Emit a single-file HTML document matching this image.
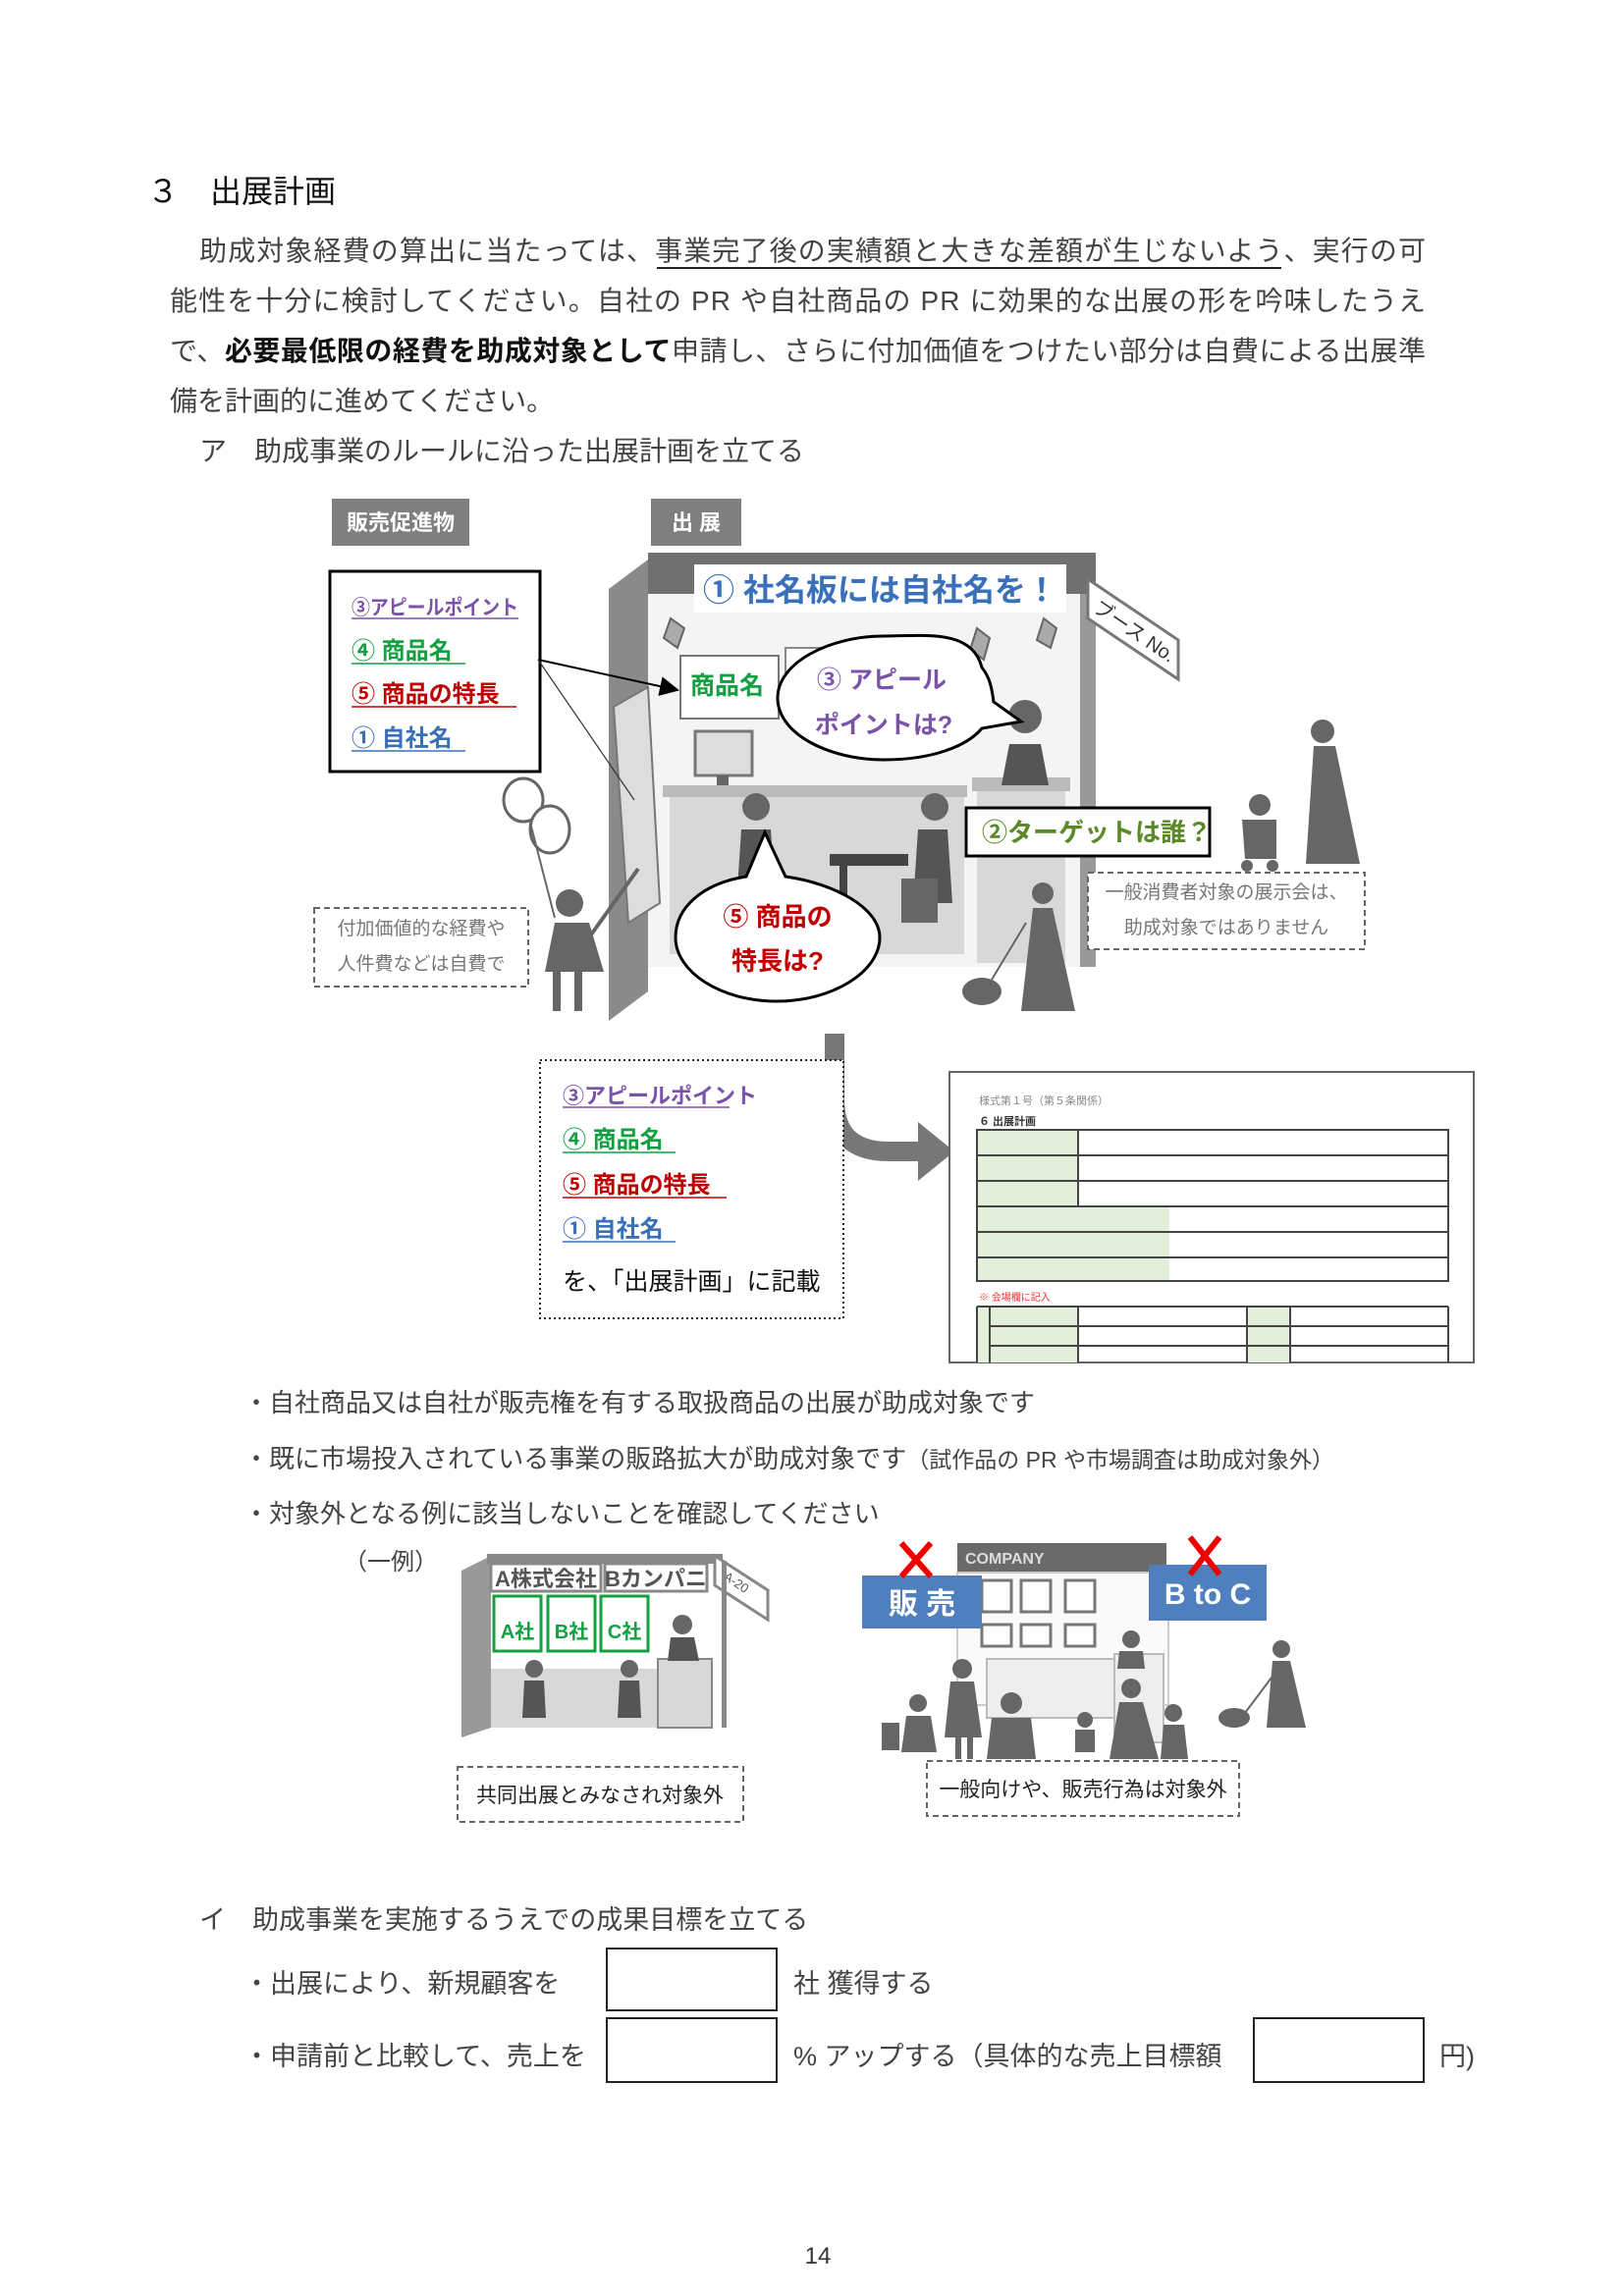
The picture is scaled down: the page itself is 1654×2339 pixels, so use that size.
<!DOCTYPE html>
<html><head><meta charset="utf-8"><style>
html,body{margin:0;padding:0;background:#fff}
svg{display:block}
text{font-family:"Liberation Sans","Noto Sans CJK JP",sans-serif}
</style></head><body>
<svg width="1654" height="2339" viewBox="0 0 1654 2339" xmlns="http://www.w3.org/2000/svg">
<defs>
<marker id="ah" markerWidth="10" markerHeight="10" refX="9" refY="5" orient="auto"><path d="M0,0 L10,5 L0,10 z" fill="#000"/></marker>
</defs>
<text x="150" y="206" font-size="32" fill="#111">３　出展計画</text>
<g font-size="28" fill="#444">
<text x="203" y="265" textLength="1249" lengthAdjust="spacing">助成対象経費の算出に当たっては、事業完了後の実績額と大きな差額が生じないよう、実行の可</text>
<line x1="669" y1="273" x2="1305" y2="273" stroke="#222" stroke-width="2"/>
<text x="173" y="316" textLength="1279" lengthAdjust="spacing">能性を十分に検討してください。自社の PR や自社商品の PR に効果的な出展の形を吟味したうえ</text>
<text x="173" y="367" textLength="1279" lengthAdjust="spacing">で、<tspan fill="#111" font-weight="bold">必要最低限の経費を助成対象として</tspan>申請し、さらに付加価値をつけたい部分は自費による出展準</text>
<text x="173" y="418">備を計画的に進めてください。</text>
<text x="203" y="469">ア　助成事業のルールに沿った出展計画を立てる</text>
</g>

<rect x="338" y="508" width="140" height="48" fill="#7f7f7f"/>
<text x="408" y="540" font-size="22" font-weight="bold" fill="#fff" text-anchor="middle">販売促進物</text>
<rect x="663" y="508" width="92" height="48" fill="#7f7f7f"/>
<text x="709" y="540" font-size="22" font-weight="bold" fill="#fff" text-anchor="middle">出 展</text>

<rect x="336" y="582" width="214" height="204" fill="#fff" stroke="#000" stroke-width="3"/>
<g font-size="24" font-weight="bold">
<text x="358" y="626" fill="#7a52a8" font-size="21" textLength="170" lengthAdjust="spacingAndGlyphs">③アピールポイント</text>
<line x1="358" y1="630" x2="528" y2="630" stroke="#7a52a8" stroke-width="1.5"/>
<text x="358" y="671" fill="#12a040">④ 商品名</text>
<line x1="358" y1="676" x2="474" y2="676" stroke="#12a040" stroke-width="1.5"/>
<text x="358" y="715" fill="#c00000">⑤ 商品の特長</text>
<line x1="358" y1="720" x2="526" y2="720" stroke="#c00000" stroke-width="1.5"/>
<text x="358" y="760" fill="#3a70b8">① 自社名</text>
<line x1="358" y1="765" x2="474" y2="765" stroke="#3a70b8" stroke-width="1.5"/>
</g>

<g>
<polygon points="620,600 660,570 660,1010 620,1040" fill="#8a8a8a"/>
<rect x="660" y="563" width="456" height="42" fill="#707070"/>
<rect x="660" y="605" width="456" height="380" fill="#f4f4f4"/>
<rect x="1100" y="605" width="16" height="380" fill="#999"/>
<rect x="707" y="575" width="379" height="49" fill="#fff"/>
<text x="716" y="612" font-size="32" font-weight="bold" fill="#3a70b8">① 社名板には自社名を！</text>
<polygon points="1108,590 1200,652 1200,692 1108,630" fill="#fff" stroke="#777" stroke-width="3"/>
<text x="1112" y="622" font-size="20" fill="#333" transform="rotate(34 1112 622)">ブース No.</text>
<polygon points="683,630 697,640 690,660 676,650" fill="#aaa" stroke="#666" stroke-width="2"/>
<polygon points="995,640 1008,650 1002,672 988,662" fill="#aaa" stroke="#666" stroke-width="2"/>
<polygon points="1063,630 1076,640 1070,660 1056,652" fill="#aaa" stroke="#666" stroke-width="2"/>
<rect x="693" y="668" width="100" height="64" fill="#fff" stroke="#777" stroke-width="2"/>
<text x="703" y="707" font-size="25" font-weight="bold" fill="#12a040">商品名</text>
<rect x="800" y="660" width="170" height="50" fill="#fff" stroke="#888" stroke-width="2"/>
<polygon points="625,720 660,700 672,920 640,940" fill="#ddd" stroke="#777" stroke-width="2"/>
<rect x="708" y="745" width="58" height="45" fill="#ddd" stroke="#777" stroke-width="3"/>
<rect x="730" y="790" width="12" height="12" fill="#666"/>
<rect x="675" y="800" width="310" height="12" fill="#bbb"/>
<rect x="682" y="812" width="300" height="160" fill="#d8d8d8"/>
<rect x="990" y="792" width="100" height="14" fill="#bbb"/>
<rect x="995" y="806" width="90" height="175" fill="#d8d8d8"/>
<circle cx="1044" cy="730" r="17" fill="#666"/>
<path d="M1020,800 L1028,758 L1060,758 L1068,800 z" fill="#555"/>
<circle cx="770" cy="822" r="14" fill="#666"/>
<path d="M755,845 L785,845 L790,920 L750,920 z" fill="#555"/>
<circle cx="952" cy="822" r="14" fill="#666"/>
<path d="M935,845 L965,845 L970,920 L930,920 z" fill="#555"/>
<rect x="845" y="870" width="80" height="12" fill="#444"/>
<rect x="855" y="882" width="8" height="50" fill="#444"/>
<path d="M918,895 L955,895 L955,940 L918,940 z" fill="#666"/>
</g>
<line x1="548" y1="672" x2="690" y2="703" stroke="#000" stroke-width="2" marker-end="url(#ah)"/>
<line x1="548" y1="672" x2="646" y2="815" stroke="#333" stroke-width="1.2"/>

<path d="M1000,680 C990,640 940,648 900,648 C845,648 792,675 792,711 C792,748 845,774 900,774 C950,774 985,760 1000,742 L1040,735 L1012,715 C1010,700 1008,690 1000,680 z" fill="#fff" stroke="#000" stroke-width="3"/>
<text x="898" y="701" font-size="25" font-weight="bold" fill="#7a52a8" text-anchor="middle">③ アピール</text>
<text x="900" y="747" font-size="25" font-weight="bold" fill="#7a52a8" text-anchor="middle">ポイントは?</text>

<rect x="984" y="823" width="248" height="49" fill="#fff" stroke="#000" stroke-width="3"/>
<text x="1000" y="857" font-size="26" font-weight="bold" fill="#5a8a28">②ターゲットは誰？</text>

<path d="M760,893 L779,848 L800,893 C850,900 896,925 896,955 C896,990 848,1020 791,1020 C734,1020 688,990 688,955 C688,925 715,900 760,893 z" fill="#fff" stroke="#000" stroke-width="3"/>
<text x="792" y="943" font-size="26" font-weight="bold" fill="#c00000" text-anchor="middle">⑤ 商品の</text>
<text x="792" y="988" font-size="26" font-weight="bold" fill="#c00000" text-anchor="middle">特長は?</text>

<ellipse cx="533" cy="815" rx="20" ry="22" fill="#fff" stroke="#666" stroke-width="3"/>
<ellipse cx="560" cy="845" rx="20" ry="24" fill="#fff" stroke="#666" stroke-width="3"/>
<line x1="540" y1="838" x2="565" y2="935" stroke="#666" stroke-width="2"/>
<circle cx="580" cy="920" r="14" fill="#666"/>
<path d="M565,940 L600,940 L615,990 L555,990 z" fill="#666"/>
<rect x="563" y="990" width="8" height="40" fill="#666"/>
<rect x="585" y="990" width="8" height="40" fill="#666"/>
<line x1="600" y1="955" x2="650" y2="885" stroke="#666" stroke-width="4"/>

<circle cx="1347" cy="745" r="12" fill="#666"/>
<path d="M1338,760 L1360,760 L1385,880 L1330,880 z" fill="#666"/>
<circle cx="1283" cy="820" r="11" fill="#666"/>
<path d="M1265,835 L1300,835 L1300,875 L1268,875 z" fill="#666"/>
<circle cx="1270" cy="882" r="6" fill="#666"/><circle cx="1296" cy="882" r="6" fill="#666"/>
<circle cx="1062" cy="910" r="11" fill="#666"/>
<path d="M1052,925 L1072,925 L1095,1030 L1040,1030 z" fill="#666"/>
<ellipse cx="1000" cy="1010" rx="20" ry="14" fill="#666"/>
<line x1="1045" y1="940" x2="1010" y2="998" stroke="#666" stroke-width="2"/>

<rect x="320" y="925" width="218" height="80" fill="#fff" stroke="#666" stroke-width="2" stroke-dasharray="6,4"/>
<text x="429" y="952" font-size="19" fill="#777" text-anchor="middle">付加価値的な経費や</text>
<text x="429" y="988" font-size="19" fill="#777" text-anchor="middle">人件費などは自費で</text>
<rect x="1108" y="889" width="282" height="78" fill="#fff" stroke="#666" stroke-width="2" stroke-dasharray="6,4"/>
<text x="1249" y="915" font-size="19" fill="#777" text-anchor="middle">一般消費者対象の展示会は、</text>
<text x="1249" y="951" font-size="19" fill="#777" text-anchor="middle">助成対象ではありません</text>

<path d="M850,1053 L850,1120 Q850,1173 905,1173 L935,1173" fill="none" stroke="#777" stroke-width="20"/>
<polygon points="935,1143 972,1173 935,1203" fill="#777"/>

<rect x="550" y="1080" width="309" height="263" fill="#fff" stroke="#222" stroke-width="2" stroke-dasharray="2,3"/>
<g font-size="24" font-weight="bold">
<text x="573" y="1124" fill="#7a52a8" font-size="22">③アピールポイント</text>
<line x1="573" y1="1128" x2="743" y2="1128" stroke="#7a52a8" stroke-width="1.5"/>
<text x="573" y="1169" fill="#12a040">④ 商品名</text>
<line x1="573" y1="1174" x2="688" y2="1174" stroke="#12a040" stroke-width="1.5"/>
<text x="573" y="1215" fill="#c00000">⑤ 商品の特長</text>
<line x1="573" y1="1220" x2="740" y2="1220" stroke="#c00000" stroke-width="1.5"/>
<text x="573" y="1260" fill="#3a70b8">① 自社名</text>
<line x1="573" y1="1265" x2="688" y2="1265" stroke="#3a70b8" stroke-width="1.5"/>
</g>
<text x="573" y="1314" font-size="25" fill="#111">を、「出展計画」に記載</text>

<rect x="967" y="1092" width="534" height="296" fill="#fff" stroke="#666" stroke-width="2"/>
<text x="997" y="1125" font-size="11" fill="#888">様式第１号（第５条関係）</text>
<text x="997" y="1146" font-size="11" font-weight="bold" fill="#333">６ 出展計画</text>
<rect x="995" y="1151" width="480" height="154" fill="#fff"/>
<rect x="996" y="1152" width="102" height="76" fill="#e3eedb"/>
<rect x="996" y="1228" width="195" height="76" fill="#e3eedb"/>
<g stroke="#444" stroke-width="2">
<line x1="995" y1="1177" x2="1475" y2="1177"/><line x1="995" y1="1203" x2="1475" y2="1203"/>
<line x1="995" y1="1229" x2="1475" y2="1229"/><line x1="995" y1="1255" x2="1475" y2="1255"/>
<line x1="995" y1="1281" x2="1475" y2="1281"/><line x1="1098" y1="1151" x2="1098" y2="1229"/>
<rect x="995" y="1151" width="480" height="154" fill="none"/>
</g>
<text x="997" y="1325" font-size="10" fill="#e33">※ 会場欄に記入</text>
<rect x="996" y="1332" width="12" height="56" fill="#e3eedb"/>
<rect x="1008" y="1332" width="90" height="56" fill="#e3eedb"/>
<rect x="1270" y="1332" width="44" height="56" fill="#e3eedb"/>
<g stroke="#444" stroke-width="2" fill="none">
<line x1="995" y1="1331" x2="1475" y2="1331"/><line x1="1008" y1="1351" x2="1475" y2="1351"/>
<line x1="1008" y1="1371" x2="1475" y2="1371"/><line x1="995" y1="1331" x2="995" y2="1388"/>
<line x1="1008" y1="1331" x2="1008" y2="1388"/><line x1="1098" y1="1331" x2="1098" y2="1388"/>
<line x1="1270" y1="1331" x2="1270" y2="1388"/><line x1="1314" y1="1331" x2="1314" y2="1388"/>
<line x1="1475" y1="1331" x2="1475" y2="1388"/>
</g>

<g font-size="26" fill="#444">
<text x="248" y="1438">・自社商品又は自社が販売権を有する取扱商品の出展が助成対象です</text>
<text x="248" y="1495">・既に市場投入されている事業の販路拡大が助成対象です<tspan font-size="23">（試作品の PR や市場調査は助成対象外）</tspan></text>
<text x="248" y="1551">・対象外となる例に該当しないことを確認してください</text>
<text x="350" y="1599" font-size="24">（一例）</text>
</g>

<polygon points="470,1600 500,1585 500,1760 470,1770" fill="#999"/>
<rect x="496" y="1583" width="240" height="10" fill="#888"/>
<rect x="500" y="1593" width="112" height="28" fill="#fff" stroke="#888" stroke-width="3"/>
<text x="556" y="1616" font-size="22" font-weight="bold" fill="#555" text-anchor="middle">A株式会社</text>
<rect x="616" y="1593" width="104" height="28" fill="#fff" stroke="#888" stroke-width="3"/>
<text x="668" y="1616" font-size="22" font-weight="bold" fill="#555" text-anchor="middle">Bカンパニ</text>
<polygon points="728,1585 782,1620 782,1650 728,1615" fill="#fff" stroke="#888" stroke-width="3"/>
<text x="736" y="1608" font-size="13" fill="#555" transform="rotate(34 736 1608)">A-20</text>
<g fill="#fff" stroke="#12a040" stroke-width="3">
<rect x="503" y="1626" width="48" height="56"/><rect x="558" y="1626" width="48" height="56"/><rect x="612" y="1626" width="48" height="56"/>
</g>
<g font-size="20" font-weight="bold" fill="#12a040" text-anchor="middle">
<text x="527" y="1669">A社</text><text x="582" y="1669">B社</text><text x="636" y="1669">C社</text>
</g>
<rect x="500" y="1700" width="180" height="60" fill="#d8d8d8"/>
<rect x="670" y="1690" width="55" height="70" fill="#d8d8d8" stroke="#888" stroke-width="2"/>
<rect x="735" y="1590" width="5" height="170" fill="#888"/>
<circle cx="695" cy="1655" r="10" fill="#666"/><path d="M683,1668 L707,1668 L712,1692 L680,1692z" fill="#555"/>
<circle cx="544" cy="1700" r="9" fill="#666"/><path d="M534,1712 L554,1712 L556,1750 L532,1750z" fill="#555"/>
<circle cx="641" cy="1700" r="9" fill="#666"/><path d="M631,1712 L651,1712 L653,1750 L629,1750z" fill="#555"/>
<rect x="466" y="1800" width="291" height="56" fill="#fff" stroke="#666" stroke-width="2" stroke-dasharray="6,4"/>
<text x="611" y="1836" font-size="21" fill="#222" text-anchor="middle">共同出展とみなされ対象外</text>

<rect x="975" y="1572" width="213" height="30" fill="#6a6a6a"/>
<text x="983" y="1593" font-size="16" font-weight="bold" fill="#ddd">COMPANY</text>
<rect x="975" y="1602" width="215" height="135" fill="#fafafa" stroke="#ccc" stroke-width="2"/>
<g fill="#fff" stroke="#777" stroke-width="3">
<rect x="1000" y="1610" width="30" height="32"/><rect x="1040" y="1610" width="30" height="32"/><rect x="1085" y="1610" width="30" height="32"/>
<rect x="1000" y="1655" width="30" height="22"/><rect x="1040" y="1655" width="30" height="22"/><rect x="1085" y="1655" width="30" height="22"/>
</g>
<rect x="1005" y="1690" width="130" height="60" fill="#eee" stroke="#bbb" stroke-width="2"/>
<rect x="1135" y="1685" width="50" height="90" fill="#eee" stroke="#bbb" stroke-width="2"/>
<g fill="#666">
<circle cx="980" cy="1700" r="10"/><path d="M968,1713 L992,1713 L1000,1770 L962,1770z"/>
<rect x="973" y="1770" width="6" height="22"/><rect x="985" y="1770" width="6" height="22"/>
<circle cx="935" cy="1735" r="9"/><path d="M923,1748 L948,1748 L954,1785 L918,1785z"/>
<rect x="898" y="1755" width="18" height="28"/>
<circle cx="1030" cy="1735" r="11"/><path d="M1010,1750 L1050,1750 L1055,1792 L1005,1792z"/>
<circle cx="1152" cy="1720" r="10"/><path d="M1140,1734 L1164,1734 L1180,1792 L1130,1792z"/>
<circle cx="1195" cy="1745" r="9"/><path d="M1185,1757 L1206,1757 L1210,1792 L1182,1792z"/>
<circle cx="1105" cy="1752" r="8"/><path d="M1095,1762 L1115,1762 L1115,1785 L1095,1785z"/>
<circle cx="1305" cy="1680" r="9"/><path d="M1296,1692 L1314,1692 L1330,1760 L1290,1760z"/>
<ellipse cx="1257" cy="1750" rx="16" ry="10"/>
<circle cx="1152" cy="1670" r="9"/><path d="M1140,1682 L1164,1682 L1166,1700 L1138,1700z"/>
</g>
<line x1="1298" y1="1705" x2="1268" y2="1745" stroke="#666" stroke-width="2"/>
<rect x="878" y="1605" width="122" height="54" fill="#4f7fbd"/>
<text x="939" y="1644" font-size="30" font-weight="bold" fill="#fff" text-anchor="middle">販 売</text>
<g stroke="#e00" stroke-width="6"><line x1="918" y1="1572" x2="948" y2="1606"/><line x1="948" y1="1572" x2="918" y2="1606"/></g>
<rect x="1170" y="1594" width="120" height="57" fill="#4f7fbd"/>
<text x="1230" y="1634" font-size="30" font-weight="bold" fill="#fff" text-anchor="middle">B to C</text>
<g stroke="#e00" stroke-width="6"><line x1="1212" y1="1566" x2="1242" y2="1604"/><line x1="1242" y1="1566" x2="1212" y2="1604"/></g>
<rect x="944" y="1794" width="318" height="56" fill="#fff" stroke="#666" stroke-width="2" stroke-dasharray="6,4"/>
<text x="1103" y="1830" font-size="21" fill="#222" text-anchor="middle">一般向けや、販売行為は対象外</text>

<g font-size="27" fill="#444">
<text x="203" y="1965">イ　助成事業を実施するうえでの成果目標を立てる</text>
<text x="248" y="2030">・出展により、新規顧客を</text>
<text x="808" y="2030">社  獲得する</text>
<text x="248" y="2104">・申請前と比較して、売上を</text>
<text x="808" y="2104">%  アップする（具体的な売上目標額</text>
<text x="1466" y="2104">円)</text>
</g>
<rect x="618" y="1985" width="173" height="63" fill="none" stroke="#222" stroke-width="2"/>
<rect x="618" y="2056" width="173" height="65" fill="none" stroke="#222" stroke-width="2"/>
<rect x="1277" y="2056" width="173" height="65" fill="none" stroke="#222" stroke-width="2"/>

<text x="833" y="2306" font-size="24" fill="#333" font-family="Liberation Serif, serif" text-anchor="middle">14</text>
</svg>
</body></html>
